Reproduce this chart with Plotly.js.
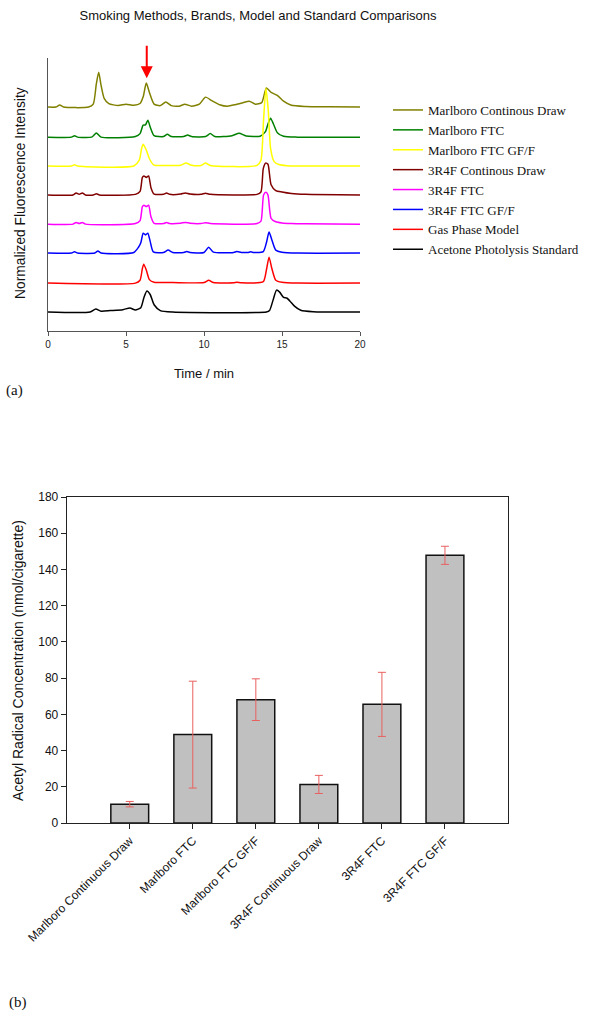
<!DOCTYPE html>
<html>
<head>
<meta charset="utf-8">
<script src="https://cdn.plot.ly/plotly-3.0.1.min.js"></script>
<style>html,body{margin:0;padding:0;background:#fff;}#chart{width:600px;height:1019px;}</style>
</head>
<body>
<div id="chart"></div>
<script>
// ---------- Panel (a): chromatograms (time in min, signal above own baseline) ----------
const seriesNames = ["Marlboro Continous Draw", "Marlboro FTC", "Marlboro FTC GF/F", "3R4F Continous Draw",
  "3R4F FTC", "3R4F FTC GF/F", "Gas Phase Model", "Acetone Photolysis Standard"];

const tMarlboroCD = [0, 0.5, 0.75, 1.0, 2.6, 2.9, 3.1, 3.25, 3.4, 3.6, 3.9, 4.5, 5.0, 5.5, 5.9, 6.1, 6.3, 6.5, 6.8, 7.2, 7.55, 7.9, 8.4, 8.77, 9.2, 9.7, 10.1, 10.5, 11.0, 11.5, 12.0, 12.5, 12.9, 13.3, 13.7, 14.0, 14.3, 14.7, 15.1, 15.6, 16.5, 18, 20];
const yMarlboroCD = [0, 0, 0.07, 0, 0, 0.1, 0.8, 1.19, 0.75, 0.3, 0.12, 0.05, 0.1, 0.06, 0.12, 0.35, 0.82, 0.5, 0.1, 0.05, 0.17, 0.05, 0.03, 0.1, 0.03, 0.1, 0.34, 0.22, 0.08, 0.03, 0.08, 0.15, 0.2, 0.1, 0.15, 0.65, 0.5, 0.4, 0.2, 0.06, 0.02, 0.01, 0];

const tMarlboroFTC = [0, 1.5, 1.7, 1.9, 2.8, 3.1, 3.4, 5.6, 5.9, 6.1, 6.25, 6.4, 6.55, 6.8, 7.4, 7.65, 7.9, 8.7, 8.95, 9.2, 10.1, 10.4, 10.7, 11.8, 12.25, 12.7, 13.6, 13.95, 14.1, 14.27, 14.45, 14.7, 15.1, 16, 20];
const yMarlboroFTC = [0, 0, 0.05, 0, 0, 0.14, 0, 0.02, 0.12, 0.41, 0.42, 0.58, 0.35, 0.05, 0.02, 0.1, 0.02, 0.02, 0.07, 0.02, 0.02, 0.12, 0.02, 0.05, 0.13, 0.04, 0.03, 0.2, 0.45, 0.65, 0.45, 0.15, 0.03, 0, 0];

const tMarlboroGF = [0, 1.5, 1.7, 1.9, 5.5, 5.85, 6.0, 6.1, 6.3, 6.5, 6.8, 7.5, 8.5, 8.85, 9.2, 9.8, 10.1, 10.4, 13.4, 13.65, 13.82, 13.97, 14.12, 14.27, 14.5, 14.8, 15.3, 16, 20];
const yMarlboroGF = [0, 0, 0.04, 0, 0, 0.2, 0.6, 0.75, 0.55, 0.25, 0.03, 0.02, 0.03, 0.1, 0.03, 0.02, 0.1, 0.02, 0.02, 0.2, 1.6, 2.66, 1.9, 0.6, 0.15, 0.05, 0.01, 0, 0];

const t3R4FCD = [0, 1.6, 1.8, 2.0, 2.2, 2.4, 2.9, 3.1, 3.3, 5.6, 5.9, 6.05, 6.15, 6.3, 6.45, 6.6, 6.8, 7.4, 7.6, 7.8, 8.5, 8.8, 9.1, 9.8, 10.1, 10.4, 13.4, 13.65, 13.8, 13.95, 14.1, 14.3, 14.6, 15.0, 15.6, 16.5, 20];
const y3R4FCD = [0, 0, 0.07, 0.02, 0.07, 0, 0, 0.04, 0, 0.02, 0.12, 0.6, 0.65, 0.6, 0.65, 0.25, 0.03, 0.02, 0.07, 0.02, 0.03, 0.07, 0.03, 0.02, 0.06, 0.02, 0.02, 0.1, 0.9, 1.09, 1.05, 0.35, 0.15, 0.1, 0.05, 0.02, 0];

const t3R4FFTC = [0, 1.6, 1.8, 2.0, 2.2, 2.4, 5.6, 5.9, 6.05, 6.15, 6.3, 6.45, 6.6, 6.8, 7.4, 7.6, 7.8, 8.5, 8.8, 9.1, 9.8, 10.1, 10.4, 13.4, 13.65, 13.82, 13.97, 14.1, 14.3, 14.6, 15.0, 15.6, 16.5, 20];
const y3R4FFTC = [0, 0, 0.06, 0.02, 0.06, 0, 0.02, 0.12, 0.6, 0.65, 0.6, 0.65, 0.25, 0.03, 0.02, 0.06, 0.02, 0.03, 0.06, 0.03, 0.02, 0.05, 0.02, 0.02, 0.1, 1.0, 1.09, 1.0, 0.2, 0.08, 0.04, 0.02, 0.01, 0];

const t3R4FGF = [0, 1.5, 1.7, 1.9, 3.0, 3.2, 3.4, 5.5, 5.8, 5.95, 6.1, 6.25, 6.4, 6.55, 6.75, 7.4, 7.7, 8.0, 8.7, 8.9, 9.1, 10.0, 10.3, 10.6, 11.9, 12.1, 12.4, 12.8, 13.0, 13.2, 13.8, 14.0, 14.17, 14.35, 14.6, 15.0, 16, 20];
const y3R4FGF = [0, 0, 0.04, 0, 0, 0.07, 0, 0.02, 0.2, 0.35, 0.68, 0.62, 0.68, 0.4, 0.04, 0.02, 0.1, 0.02, 0.02, 0.05, 0.02, 0.02, 0.2, 0.03, 0.02, 0.05, 0.02, 0.02, 0.04, 0.02, 0.05, 0.35, 0.72, 0.45, 0.1, 0.03, 0, 0];

const tGasPhase = [0, 5.6, 5.9, 6.05, 6.14, 6.3, 6.5, 6.8, 8.0, 10.0, 10.3, 10.6, 11.9, 12.1, 12.4, 13.8, 14.0, 14.17, 14.35, 14.6, 15, 16, 20];
const yGasPhase = [0, 0, 0.1, 0.5, 0.65, 0.45, 0.12, 0.03, 0.02, 0.02, 0.1, 0.02, 0.01, 0.03, 0.01, 0.05, 0.45, 0.89, 0.5, 0.1, 0.03, 0, 0];

const tAcetone = [0, 2.7, 3.06, 3.4, 4.0, 4.8, 5.25, 5.6, 5.95, 6.15, 6.34, 6.55, 6.8, 7.2, 8, 14.0, 14.2, 14.45, 14.65, 14.85, 15.1, 15.3, 15.5, 15.8, 16.2, 17, 20];
const yAcetone = [0, 0, 0.1, 0.03, 0.05, 0.08, 0.14, 0.07, 0.15, 0.5, 0.72, 0.6, 0.25, 0.05, 0, 0, 0.05, 0.45, 0.75, 0.68, 0.5, 0.48, 0.38, 0.2, 0.06, 0.01, 0];

const seriesTimes = [tMarlboroCD, tMarlboroFTC, tMarlboroGF, t3R4FCD, t3R4FFTC, t3R4FGF, tGasPhase, tAcetone];
const seriesSignals = [yMarlboroCD, yMarlboroFTC, yMarlboroGF, y3R4FCD, y3R4FFTC, y3R4FGF, yGasPhase, yAcetone];
const seriesOffsets = [7.67, 6.64, 5.65, 4.66, 3.66, 2.67, 1.64, 0.65];
const seriesColors = ["#808000", "#008000", "#ffff00", "#800000", "#ff00ff", "#0000ff", "#ff0000", "#000000"];
const timeTicks = [0, 5, 10, 15, 20];
const arrowTime = 6.33;

// ---------- Panel (b): bar chart ----------
const barCategories = ["Marlboro Continuous Draw", "Marlboro FTC", "Marlboro FTC GF/F", "3R4F Continuous Draw", "3R4F FTC", "3R4F FTC GF/F"];
const barValues = [10.4, 48.8, 68.1, 21.3, 65.5, 147.8];
const barErrors = [1.5, 29.5, 11.5, 5.0, 17.7, 5.0];

const SANS = "Liberation Sans, Arial, sans-serif";
const SERIF = "Liberation Serif, Times New Roman, serif";

const traces = [];
for (let i = 0; i < seriesNames.length; i++) {
  traces.push({
    type: "scatter", mode: "lines",
    name: seriesNames[i],
    x: seriesTimes[i],
    y: seriesSignals[i].map(v => v + seriesOffsets[i]),
    line: {color: seriesColors[i], width: 1.5, shape: "spline", smoothing: 0.6},
    xaxis: "x", yaxis: "y",
    hoverinfo: "x+name"
  });
}
traces.push({
  type: "bar", x: barCategories, y: barValues,
  xaxis: "x2", yaxis: "y2", showlegend: false, width: 0.6,
  marker: {color: "#c0c0c0", line: {color: "#111", width: 1.5}},
  error_y: {type: "data", array: barErrors, visible: true, color: "#e8605e", thickness: 1, width: 4}
});

const H = 1019, W = 600;
const py = p => 1 - p / H;   // pixel -> paper
const px = p => p / W;

const layout = {
  width: W, height: H,
  margin: {l: 0, r: 0, t: 0, b: 0},
  paper_bgcolor: "#fff", plot_bgcolor: "rgba(0,0,0,0)",
  font: {family: SANS, color: "#111"},
  title: {text: "Smoking Methods, Brands, Model and Standard Comparisons",
    x: px(258), xanchor: "center", y: py(15), yanchor: "middle", font: {family: SANS, size: 13, color: "#111"}},
  showlegend: true,
  legend: {x: px(388), xanchor: "left", y: py(95), yanchor: "top", traceorder: "normal",
    font: {family: SERIF, size: 13, color: "#111"}, bgcolor: "rgba(0,0,0,0)", itemwidth: 30},
  xaxis: {domain: [px(48), px(360)], anchor: "y", range: [0, 20], tickvals: timeTicks,
    showline: true, linecolor: "#555", linewidth: 1, ticks: "outside", ticklen: 4, tickcolor: "#555",
    showgrid: false, zeroline: false, tickfont: {family: SANS, size: 10, color: "#222"},
    title: {text: "Time / min", font: {family: SANS, size: 13, color: "#111"}, standoff: 19}},
  yaxis: {domain: [py(331), py(58)], anchor: "x", range: [0, 9.35],
    showline: true, linecolor: "#555", linewidth: 1, ticks: "", showticklabels: false,
    showgrid: false, zeroline: false},
  xaxis2: {domain: [px(66.7), px(508)], anchor: "y2", type: "category", range: [-1, 6],
    showline: true, mirror: true, linecolor: "#222", linewidth: 1, ticks: "outside", ticklen: 5, tickcolor: "#222",
    showgrid: false, zeroline: false, tickangle: -45, tickfont: {family: SANS, size: 12, color: "#111"}},
  yaxis2: {domain: [py(823), py(497)], anchor: "x2", range: [0, 180], dtick: 20,
    showline: true, mirror: true, linecolor: "#222", linewidth: 1, ticks: "outside", ticklen: 5, tickcolor: "#222",
    showgrid: false, zeroline: false, tickfont: {family: SANS, size: 12, color: "#111"}},
  annotations: [
    {xref: "x", yref: "y", x: arrowTime, y: 8.66, ax: 0, ay: -34, showarrow: true, text: "",
      arrowcolor: "#ff0000", arrowwidth: 2, arrowhead: 2, arrowsize: 1.2},
    {xref: "paper", yref: "paper", x: px(20), y: py(193), text: "Normalized Fluorescence Intensity",
      textangle: -90, showarrow: false, xanchor: "center", yanchor: "middle", font: {family: SANS, size: 13.8, color: "#111"}},
    {xref: "paper", yref: "paper", x: px(18), y: py(661), text: "Acetyl Radical Concentration (nmol/cigarette)",
      textangle: -90, showarrow: false, xanchor: "center", yanchor: "middle", font: {family: SANS, size: 14, color: "#111"}},
    {xref: "paper", yref: "paper", x: px(4), y: py(390), text: "(a)", showarrow: false, xanchor: "left", yanchor: "middle",
      font: {family: SERIF, size: 15, color: "#111"}},
    {xref: "paper", yref: "paper", x: px(7), y: py(1002), text: "(b)", showarrow: false, xanchor: "left", yanchor: "middle",
      font: {family: SERIF, size: 15, color: "#111"}}
  ]
};

Plotly.newPlot("chart", traces, layout, {displayModeBar: false, staticPlot: true});
</script>
</body>
</html>
